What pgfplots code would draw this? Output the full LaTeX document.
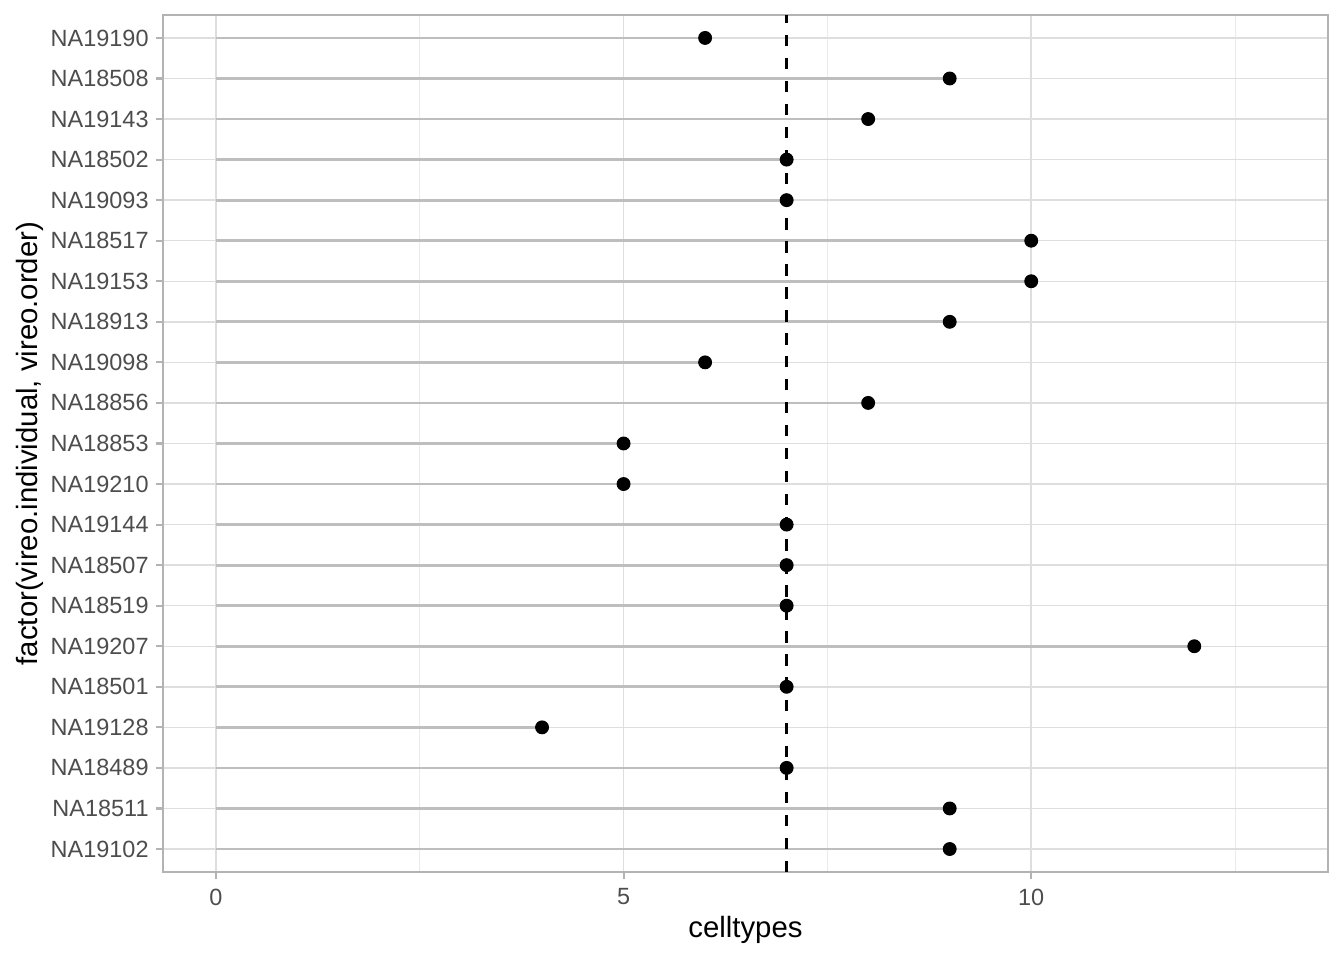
\documentclass[border=0pt]{standalone}
\usepackage{pgfplots}
\pgfplotsset{compat=1.18}
\usepackage{fontspec}
\setmainfont{Liberation Sans}
\definecolor{grey30}{HTML}{4D4D4D}
\definecolor{grey70}{HTML}{B3B3B3}
\definecolor{grey87}{HTML}{DEDEDE}
\definecolor{grey92}{HTML}{EBEBEB}
\definecolor{seggrey}{HTML}{BEBEBE}
\begin{document}
\begin{tikzpicture}
\path[use as bounding box] (0,0) rectangle (504pt,360pt);
\begin{axis}[
  at={(61.1pt,33pt)}, anchor=south west,
  scale only axis, width=436.9pt, height=321.4pt,
  xmin=-0.65, xmax=13.64, ymin=0.433, ymax=21.567,
  xtick={0,5,10}, minor xtick={2.5,7.5,12.5},
  ytick={1,...,21},
  yticklabels={NA19102,NA18511,NA18489,NA19128,NA18501,NA19207,NA18519,NA18507,NA19144,NA19210,NA18853,NA18856,NA19098,NA18913,NA19153,NA18517,NA19093,NA18502,NA19143,NA18508,NA19190},
  xmajorgrids, ymajorgrids, xminorgrids,
  major grid style={grey87, line width=0.55pt},
  minor grid style={grey92, line width=0.3pt},
  axis line style={grey70, line width=0.8pt},
  tick style={grey70, line width=0.8pt},
  major tick length=2.75pt, minor tick length=0pt,
  tick align=outside, xtick pos=bottom, ytick pos=left,
  ticklabel style={font=\fontsize{8.8}{10}\selectfont, text=grey30},
  yticklabel style={xshift=0.9pt},
  xticklabel style={yshift=0pt},
  /pgf/number format/assume math mode=true,
  xlabel={celltypes}, ylabel={factor(vireo.individual, vireo.order)},
  label style={font=\fontsize{11}{13}\selectfont, text=black},
  xlabel style={at={(rel axis cs:0.5,-0.068)}, anchor=center},
  ylabel style={at={(rel axis cs:-0.114,0.5)}, anchor=center, rotate=0},
  clip=false,
]
\addplot[xcomb, seggrey, line width=1.05pt] table {
x y
9 1
9 2
7 3
4 4
7 5
12 6
7 7
7 8
7 9
5 10
5 11
8 12
6 13
9 14
10 15
10 16
7 17
7 18
8 19
9 20
6 21
};
\addplot[black, line width=1pt, dash pattern=on 4.3pt off 4.3pt] coordinates {(7,0.433) (7,21.567)};
\addplot[only marks, mark=*, mark size=2.4pt, black] table {
x y
9 1
9 2
7 3
4 4
7 5
12 6
7 7
7 8
7 9
5 10
5 11
8 12
6 13
9 14
10 15
10 16
7 17
7 18
8 19
9 20
6 21
};
\end{axis}
\end{tikzpicture}
\end{document}
